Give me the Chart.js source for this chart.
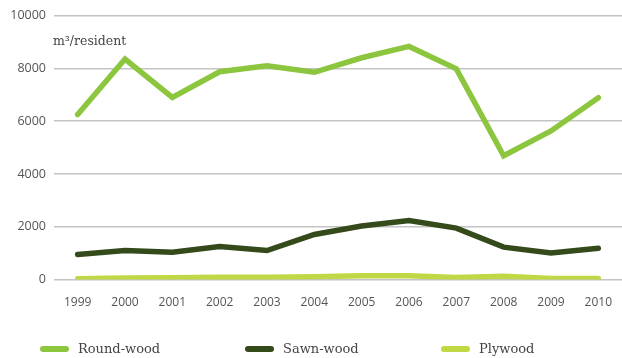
<!DOCTYPE html>
<html lang="en">
<head>
    <meta charset="UTF-8">
    <title>Wood consumption</title>
    <script src="https://cdn.jsdelivr.net/npm/chart.js"></script>
    <style>
        body {
            margin: 0;
            padding: 0;
            background-color: #fff;
        }
        .wrap {
            position: relative;
            width: 622px;
            height: 358px;
        }
        .unit {
            position: absolute;
            left: 53px;
            top: 33px;
            font-family: 'DejaVu Serif', serif;
            font-size: 12.5px;
            color: #444;
            background: #fff;
        }
        .legend {
            position: absolute;
            top: 341px;
            left: 0;
            width: 622px;
            height: 18px;
        }
        .legend-item {
            position: absolute;
            top: 0;
            display: flex;
            align-items: center;
            font-family: 'DejaVu Serif', serif;
            font-size: 13px;
            color: #444;
        }
        .legend-item span.swatch {
            display: inline-block;
            width: 29px;
            height: 6px;
            border-radius: 3px;
            margin-right: 9px;
        }
    </style>
</head>
<body>
    <div class="wrap">
        <canvas id="woodChart" width="622" height="358"></canvas>
        <div class="unit">m³/resident</div>
        <div class="legend" id="legend"></div>
    </div>

    <script>
        const years = ['1999', '2000', '2001', '2002', '2003', '2004', '2005', '2006', '2007', '2008', '2009', '2010'];
        const roundWood = [6250, 8350, 6900, 7870, 8100, 7850, 8400, 8830, 7980, 4690, 5630, 6890];
        const sawnWood = [950, 1100, 1040, 1250, 1100, 1710, 2030, 2240, 1950, 1230, 1010, 1190];
        const plywood = [30, 60, 70, 90, 90, 110, 150, 150, 80, 130, 40, 40];
        const yTicks = [0, 2000, 4000, 6000, 8000, 10000];

        const seriesNames = ['Round-wood', 'Sawn-wood', 'Plywood'];
        const seriesColors = ['#8cc63e', '#344a1b', '#c0d843'];
        const legendLeft = [40, 245, 441];

        const chart = new Chart(document.getElementById('woodChart'), {
            type: 'line',
            data: {
                labels: years,
                datasets: [roundWood, sawnWood, plywood].map((d, i) => ({
                    label: seriesNames[i],
                    data: d,
                    borderColor: seriesColors[i],
                    backgroundColor: seriesColors[i],
                    borderWidth: 5.5,
                    pointRadius: 0,
                    tension: 0,
                    borderCapStyle: 'round',
                    borderJoinStyle: 'miter'
                }))
            },
            options: {
                responsive: false,
                animation: false,
                layout: {
                    padding: { top: 8, right: 0, bottom: 40, left: 0 }
                },
                plugins: {
                    legend: { display: false },
                    tooltip: { enabled: false }
                },
                scales: {
                    x: {
                        offset: true,
                        grid: { display: false },
                        border: { display: false },
                        ticks: {
                            color: '#555',
                            font: { family: 'Open Sans', size: 12 },
                            padding: 8,
                            maxRotation: 0
                        }
                    },
                    y: {
                        min: 0,
                        max: 10000,
                        afterBuildTicks: axis => {
                            axis.ticks = yTicks.map(v => ({ value: v }));
                        },
                        afterFit: axis => {
                            axis.width = 54;
                        },
                        grid: {
                            color: '#c4c4c4',
                            lineWidth: 1.5,
                            drawTicks: false
                        },
                        border: { display: false },
                        ticks: {
                            color: '#555',
                            font: { family: 'Open Sans', size: 12.5 },
                            padding: 8,
                            callback: v => String(v)
                        }
                    }
                }
            }
        });

        const legend = document.getElementById('legend');
        seriesNames.forEach((name, i) => {
            const item = document.createElement('div');
            item.className = 'legend-item';
            item.style.left = legendLeft[i] + 'px';
            item.innerHTML = '<span class="swatch" style="background:' + seriesColors[i] + '"></span>' + name;
            legend.appendChild(item);
        });
    </script>
</body>
</html>
